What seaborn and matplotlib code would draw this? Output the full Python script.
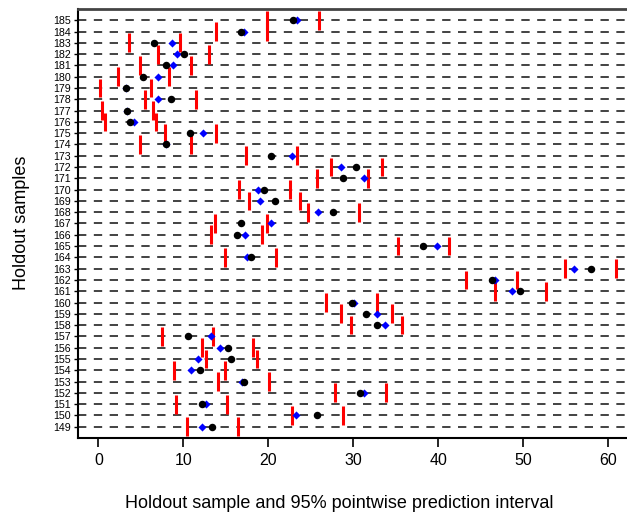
import numpy as np
import pandas as pd
import matplotlib
matplotlib.use("Agg")
import matplotlib.pyplot as plt
import seaborn as sns

# holdout samples, top to bottom
samples = list(range(185, 148, -1))

# observed holdout value (black dots)
observed = [22.9, 16.8, 6.55, 10.05, 7.9, 5.3, 3.2, 8.5, 3.4, 3.77, 10.8, 7.9,
            20.3, 30.35, 28.75, 19.5, 20.8, 27.65, 16.75, 16.3, 38.2, 17.9,
            57.9, 46.3, 49.6, 29.8, 31.5, 32.75, 10.55, 15.26, 15.6, 11.9,
            17.1, 30.8, 12.2, 25.73, 13.38]

# predicted value (blue diamonds)
predicted = [23.4, 17.1, 8.6, 9.2, 8.75, 7.06, 3.2, 7.0, 3.4, 4.24, 12.35, 7.95,
             22.75, 28.5, 31.3, 18.75, 19.0, 25.85, 20.35, 17.2, 39.85, 17.5,
             55.96, 46.6, 48.7, 30.1, 32.8, 33.7, 13.2, 14.35, 11.77, 10.87,
             16.9, 31.26, 12.67, 23.26, 12.24]

# 95% pointwise prediction interval (red bars)
lower = [19.85, 13.85, 3.57, 6.98, 4.9, 2.3, 0.2, 5.5, 0.44, 0.79, 7.85, 4.9,
         17.4, 27.4, 25.7, 16.55, 17.7, 24.65, 13.7, 13.25, 35.2, 14.9,
         54.9, 43.26, 46.7, 26.8, 28.5, 29.7, 7.5, 12.2, 12.67, 8.9,
         14.08, 27.85, 9.14, 22.75, 10.43]
upper = [25.9, 19.85, 9.6, 13.0, 10.9, 8.3, 6.2, 11.45, 6.4, 6.8, 13.85, 10.9,
         23.4, 33.4, 31.7, 22.55, 23.7, 30.7, 19.85, 19.26, 41.26, 20.9,
         60.9, 49.26, 52.7, 32.8, 34.55, 35.7, 13.5, 18.2, 18.67, 14.9,
         20.08, 33.85, 15.14, 28.75, 16.43]

df = pd.DataFrame({"sample": samples, "observed": observed, "predicted": predicted,
                   "lower": lower, "upper": upper})

sns.set_style("ticks")
plt.rcParams["font.family"] = ["Liberation Sans", "DejaVu Sans"]
plt.rcParams["text.color"] = "black"
plt.rcParams["xtick.color"] = "black"
plt.rcParams["ytick.color"] = "black"

fig = plt.figure(figsize=(6.27, 5.14), dpi=100)
ax = fig.add_axes([78 / 627, 76 / 514, 550.8 / 627, 429 / 514])
ax.set_xlim(-2.4, 62.4)
ax.set_ylim(148, 186)

# dashed guide line for every sample
ax.hlines(df["sample"], -2.4, 62.4, colors="#222222", linewidth=1.2,
          linestyles=(0, (5, 4.5)), zorder=1)

# interval ends
half = 0.83
ax.vlines(df["lower"], df["sample"] - half, df["sample"] + half, colors="red", linewidth=2.2, zorder=2)
ax.vlines(df["upper"], df["sample"] - half, df["sample"] + half, colors="red", linewidth=2.2, zorder=2)

sns.scatterplot(data=df, x="predicted", y="sample", marker="D", s=17, color="blue",
                edgecolor="blue", linewidth=0, ax=ax, zorder=3)
sns.scatterplot(data=df, x="observed", y="sample", marker="o", s=29, color="black",
                edgecolor="black", linewidth=0, ax=ax, zorder=4)

ax.set_yticks(samples)
ax.set_yticklabels([str(s) for s in samples], fontsize=7.7)
ax.set_xticks([0, 10, 20, 30, 40, 50, 60])
ax.tick_params(axis="x", labelsize=11.5, length=6.5, width=1.2, pad=4)
ax.tick_params(axis="y", length=3, width=1.0, pad=2)
ax.set_xlabel("")
ax.set_ylabel("")

for side in ["left", "bottom", "top"]:
    ax.spines[side].set_visible(True)
    ax.spines[side].set_color("black")
    ax.spines[side].set_linewidth(1.5)
ax.spines["top"].set_color("#444444")
ax.spines["top"].set_linewidth(2)
ax.spines["right"].set_visible(False)

fig.text(339 / 627, 6 / 514, "Holdout sample and 95% pointwise prediction interval",
         ha="center", va="baseline", fontsize=13)
fig.text(22 / 627, 1 - 222.5 / 514, "Holdout samples", ha="center", va="center",
         rotation=90, fontsize=13)

plt.savefig("out.png", dpi=100)
